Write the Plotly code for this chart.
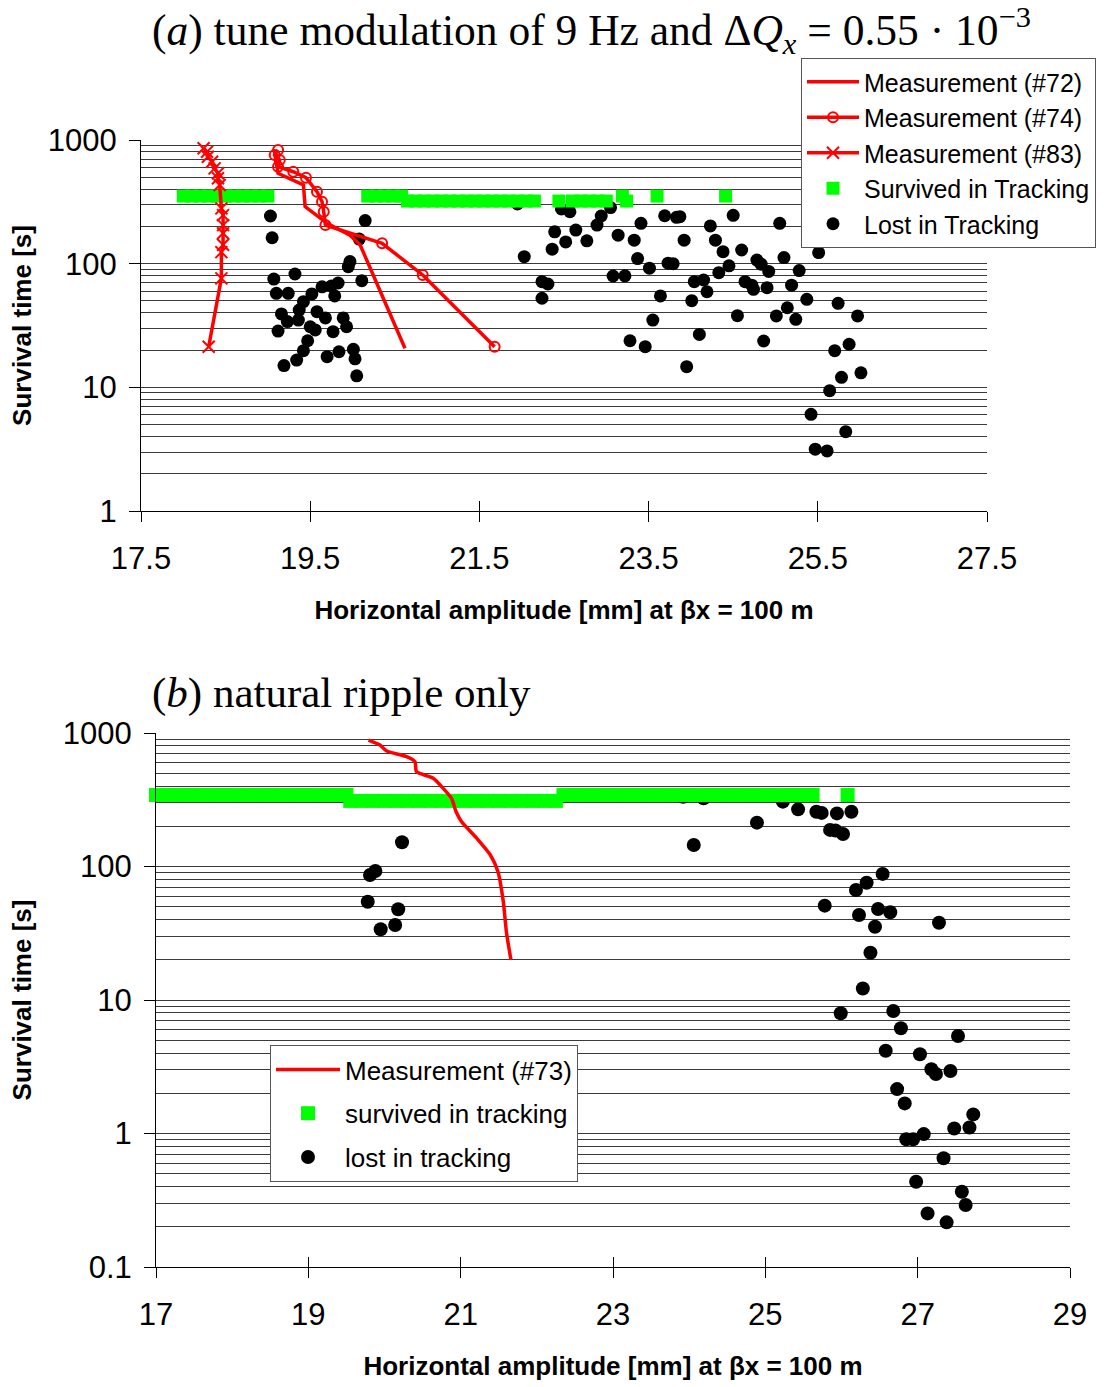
import plotly.graph_objects as go

# ---------------- panel (a): tune modulation 9 Hz ----------------
a_m72_x = [19.08, 19.12, 19.42, 19.44, 19.70, 19.97, 20.09, 20.21, 20.62]
a_m72_y = [785, 538, 433, 289, 212, 170, 142, 92, 20.7]

a_m74_x = [19.12, 19.08, 19.14, 19.12, 19.30, 19.45, 19.58, 19.64, 19.66, 19.68, 20.35, 20.83, 21.68]
a_m74_y = [830, 756, 689, 608, 554, 496, 382, 317, 263, 205, 146, 81, 21.3]

a_m83_x = [18.24, 18.28, 18.29, 18.34, 18.37, 18.41, 18.41, 18.43, 18.45, 18.47, 18.47, 18.47, 18.47, 18.45, 18.45, 18.30]
a_m83_y = [857, 804, 733, 668, 590, 538, 490, 433, 280, 247, 205, 176, 142, 124, 76, 21.3]

a_surv_x = [18.0, 18.1, 18.2, 18.3, 18.4, 18.5, 18.6, 18.7, 18.8, 18.9, 19.0,
            20.18, 20.28, 20.38, 20.48, 20.58, 23.19, 23.6, 24.41,
            20.65, 20.75, 20.85, 20.95, 21.05, 21.15, 21.25, 21.35, 21.45, 21.55, 21.65,
            21.75, 21.85, 21.95, 22.05, 22.15, 22.44, 22.6, 22.7, 22.8, 22.9, 23.0, 23.24]
a_surv_y = [352, 352, 352, 352, 352, 352, 352, 352, 352, 352, 352,
            352, 352, 352, 352, 352, 352, 352, 352,
            321, 321, 321, 321, 321, 321, 321, 321, 321, 321, 321,
            321, 321, 321, 321, 321, 321, 321, 321, 321, 321, 321, 321]

a_lost_x = [19.03, 19.05, 20.15, 20.08, 19.97, 19.95, 19.07, 19.32, 20.11, 19.10, 19.24, 19.52,
            19.64, 19.75, 19.83, 19.79, 19.42, 19.37, 19.58, 19.16, 19.23, 19.36, 19.68, 19.50,
            19.56, 19.89, 19.93, 19.12, 19.77, 19.47, 19.42, 19.34, 19.19, 19.70, 19.84, 20.01,
            20.03, 20.05,
            21.95, 22.03, 22.47, 22.57, 22.39, 22.64, 22.52, 22.77, 22.36, 22.94, 22.89, 23.05,
            23.41, 23.14, 23.33, 23.37, 23.51, 23.69, 23.83, 23.87, 23.92, 23.73, 23.79, 23.08,
            23.22, 22.24, 22.31, 22.24, 23.64, 23.55, 23.28, 23.46, 23.95, 24.23, 24.29, 24.38,
            24.50, 24.60, 24.45, 24.33, 24.04, 24.15, 24.19, 24.01, 24.10, 24.55, 24.78, 24.83,
            24.64, 24.72, 24.74, 24.92, 24.90, 24.86,
            25.05, 25.10, 25.51, 25.28, 25.19, 25.37, 25.14, 25.01, 25.24, 25.74, 25.97, 25.70,
            25.87, 25.78, 26.01, 25.64, 25.42, 25.83, 25.47, 25.61]
a_lost_y = [243, 162, 223, 158, 104, 94.5, 75, 82.5, 72.8, 57.6, 57.6, 56.9,
            65, 66, 69.8, 54.8, 49.3, 42.2, 40.9, 39.2, 34, 35, 36.4, 30.9,
            29.1, 36.4, 30.9, 28.5, 28.2, 23.8, 19.8, 16.6, 15, 17.7, 19.4, 20.3,
            17, 12.4,
            304, 114, 277, 263, 181, 187, 150, 153, 131, 243, 205, 284,
            212, 170, 155, 110, 92, 244, 237, 240, 155, 101, 100, 79.5,
            79.8, 71.5, 68.5, 52.5, 54.8, 35, 23.8, 21.3, 14.7, 202, 155, 125,
            246, 129, 96, 84.5, 71.5, 73.8, 59.3, 50.2, 26.8, 38, 107, 99,
            71.5, 67, 62, 86.5, 64, 23.7,
            212, 112, 123, 88, 67, 51.5, 44, 37.8, 35.5, 47.8, 37.8, 19.8,
            22.3, 12.05, 13.1, 9.4, 6.05, 4.38, 3.16, 3.06]

a_xticks = [17.5, 19.5, 21.5, 23.5, 25.5, 27.5]
a_yticks = [1, 10, 100, 1000]
a_ygrid = [2, 3, 4, 5, 6, 7, 8, 9, 20, 30, 40, 50, 60, 70, 80, 90,
           200, 300, 400, 500, 600, 700, 800, 900]

# ---------------- panel (b): natural ripple only ----------------
b_m73_x = [19.79, 19.94, 20.03, 20.29, 20.40, 20.42, 20.64, 20.77, 20.88, 20.94, 21.01,
           21.21, 21.39, 21.49, 21.56, 21.60, 21.66]
b_m73_y = [886, 813, 733, 665, 610, 513, 458, 385, 324, 257, 217, 163, 122, 91.4, 54.5, 32.5, 20]

b_surv_x = [17.0, 17.15, 17.3, 17.45, 17.6, 17.75, 17.9, 18.05, 18.2, 18.35, 18.5, 18.65,
            18.8, 18.95, 19.1, 19.25, 19.4, 19.5,
            19.55, 19.7, 19.85, 20.0, 20.15, 20.3, 20.45, 20.6, 20.75, 20.9, 21.05, 21.2,
            21.35, 21.5, 21.65, 21.8, 21.95, 22.1, 22.25,
            22.35, 22.5, 22.65, 22.8, 22.95, 23.1, 23.25, 23.4, 23.55, 23.7, 23.85, 24.0,
            24.15, 24.3, 24.45, 24.6, 24.75, 24.9, 25.05, 25.2, 25.35, 25.5, 25.62, 26.08]
b_surv_y = [343, 343, 343, 343, 343, 343, 343, 343, 343, 343, 343, 343,
            343, 343, 343, 343, 343, 343,
            310, 310, 310, 310, 310, 310, 310, 310, 310, 310, 310, 310,
            310, 310, 310, 310, 310, 310, 310,
            343, 343, 343, 343, 343, 343, 343, 343, 343, 343, 343, 343,
            343, 343, 343, 343, 343, 343, 343, 343, 343, 343, 343, 343]

b_lost_x = [20.23, 19.88, 19.81, 19.78, 20.18, 20.14, 19.95,
            23.92, 24.19, 25.23,
            24.06, 24.89, 25.43, 25.67, 25.74, 25.94, 26.13, 25.85, 25.92, 26.02,
            26.54, 26.33, 26.19, 25.78, 26.48, 26.64, 26.23, 27.28, 26.44, 26.38, 26.28, 25.99,
            26.68, 26.78, 27.53, 26.58, 27.03, 27.18, 27.24, 27.43, 26.73, 26.83, 27.73, 27.48,
            27.68, 27.08, 26.85, 26.94, 27.34, 26.98, 27.58, 27.63, 27.13, 27.38]
b_lost_y = [152, 92.5, 86.4, 54.5, 47.8, 36.5, 33.9,
            333, 324, 306,
            145, 213, 268, 257, 252, 250, 257, 188, 186, 175,
            88, 75.6, 66.7, 50.9, 48, 45.4, 43.3, 37.9, 35.4, 22.6, 12.2, 7.95,
            8.27, 6.14, 5.37, 4.17, 3.92, 3.03, 2.79, 2.94, 2.15, 1.68, 1.39, 1.09,
            1.11, 0.99, 0.905, 0.905, 0.652, 0.435, 0.366, 0.291, 0.252, 0.216]

b_xticks = [17, 19, 21, 23, 25, 27, 29]
b_yticks = [0.1, 1, 10, 100, 1000]
b_yticktext = ['0.1', '1', '10', '100', '1000']
b_ygrid = [0.2, 0.3, 0.4, 0.5, 0.6, 0.7, 0.8, 0.9, 2, 3, 4, 5, 6, 7, 8, 9,
           20, 30, 40, 50, 60, 70, 80, 90, 200, 300, 400, 500, 600, 700, 800, 900]

# ---------------- styling ----------------
W, H = 1109, 1387
RED = '#ff0000'
GREEN = '#00ff00'
SANS = 'Liberation Sans, Arial, sans-serif'
SERIF = 'Liberation Serif, Times New Roman, serif'
GRID = '#3a3a3a'

fig = go.Figure()

# panel (a)
fig.add_trace(go.Scatter(x=a_lost_x, y=a_lost_y, mode='markers', name='Lost in Tracking',
                         marker=dict(symbol='circle', size=13, color='black'),
                         xaxis='x', yaxis='y', legend='legend', legendrank=5))
fig.add_trace(go.Scatter(x=a_surv_x, y=a_surv_y, mode='markers', name='Survived in Tracking',
                         marker=dict(symbol='square', size=13, color=GREEN),
                         xaxis='x', yaxis='y', legend='legend', legendrank=4, cliponaxis=False))
fig.add_trace(go.Scatter(x=a_m72_x, y=a_m72_y, mode='lines', name='Measurement (#72)',
                         line=dict(color=RED, width=3.5),
                         xaxis='x', yaxis='y', legend='legend', legendrank=1))
fig.add_trace(go.Scatter(x=a_m74_x, y=a_m74_y, mode='lines+markers', name='Measurement (#74)',
                         line=dict(color=RED, width=3.5),
                         marker=dict(symbol='circle-open', size=10, color=RED, line=dict(width=2, color=RED)),
                         xaxis='x', yaxis='y', legend='legend', legendrank=2))
fig.add_trace(go.Scatter(x=a_m83_x, y=a_m83_y, mode='lines+markers', name='Measurement (#83)',
                         line=dict(color=RED, width=3.5),
                         marker=dict(symbol='x-thin-open', size=12, color=RED, line=dict(width=2, color=RED)),
                         xaxis='x', yaxis='y', legend='legend', legendrank=3))

# panel (b)
fig.add_trace(go.Scatter(x=b_lost_x, y=b_lost_y, mode='markers', name='lost in tracking',
                         marker=dict(symbol='circle', size=14, color='black'),
                         xaxis='x2', yaxis='y2', legend='legend2', legendrank=3, legendgroup='g3'))
fig.add_trace(go.Scatter(x=b_surv_x, y=b_surv_y, mode='markers', name='survived in tracking',
                         marker=dict(symbol='square', size=14, color=GREEN),
                         xaxis='x2', yaxis='y2', legend='legend2', legendrank=2, legendgroup='g2',
                         cliponaxis=False))
fig.add_trace(go.Scatter(x=b_m73_x, y=b_m73_y, mode='lines', name='Measurement (#73)',
                         line=dict(color=RED, width=3.5, shape='spline', smoothing=0.6),
                         xaxis='x2', yaxis='y2', legend='legend2', legendrank=1, legendgroup='g1'))

# helper traces so the overlay axes (inward tick halves) are drawn
fig.add_trace(go.Scatter(x=[17.5], y=[1], xaxis='x3', yaxis='y', mode='markers',
                         marker=dict(size=1, opacity=0), showlegend=False, hoverinfo='skip'))
fig.add_trace(go.Scatter(x=[17], y=[1], xaxis='x4', yaxis='y2', mode='markers',
                         marker=dict(size=1, opacity=0), showlegend=False, hoverinfo='skip'))

a_xdom = [141 / W, 987 / W]
a_ydom = [1 - 511 / H, 1 - 140 / H]
b_xdom = [156 / W, 1070 / W]
b_ydom = [1 - 1267 / H, 1 - 733 / H]

tickfont = dict(family=SANS, size=31, color='black')
titlefont = dict(family=SANS, size=26, color='black')
xtitle = '<b>Horizontal amplitude [mm] at \u03b2x = 100 m</b>'
ytitle = '<b>Survival time [s]</b>'

common_x = dict(showline=True, linecolor='black', linewidth=1, ticks='outside', ticklen=10,
                tickcolor='black', tickwidth=1, showgrid=False, zeroline=False,
                tickfont=tickfont, ticklabelstandoff=10, automargin=False)
common_y = dict(type='log', showline=True, linecolor='black', linewidth=1, ticks='outside',
                ticklen=11, tickcolor='black', tickwidth=1, showgrid=True, gridcolor=GRID,
                gridwidth=1, zeroline=False, tickfont=tickfont, ticklabelstandoff=6,
                automargin=False)

fig.update_layout(
    width=W, height=H,
    margin=dict(l=0, r=0, t=0, b=0, autoexpand=False),
    paper_bgcolor='white', plot_bgcolor='white',
    font=dict(family=SANS, color='black'),
    xaxis=dict(domain=a_xdom, anchor='y', range=[17.5, 27.5], tickmode='array',
               tickvals=a_xticks, ticktext=['17.5', '19.5', '21.5', '23.5', '25.5', '27.5'],
               title=dict(text=xtitle, font=titlefont, standoff=25), **common_x),
    yaxis=dict(domain=a_ydom, anchor='x', range=[0, 3], tickmode='array', tickvals=a_yticks,
               ticktext=['1', '10', '100', '1000'],
               minor=dict(tickmode='array', tickvals=a_ygrid, showgrid=True, gridcolor=GRID,
                          gridwidth=1, ticks=''),
               title=dict(text=ytitle, font=titlefont, standoff=8), **common_y),
    xaxis3=dict(overlaying='x', anchor='y', range=[17.5, 27.5], tickmode='array',
                tickvals=a_xticks, ticks='inside', ticklen=10, tickcolor='black',
                showticklabels=False, showline=False, showgrid=False, zeroline=False,
                automargin=False),
    xaxis2=dict(domain=b_xdom, anchor='y2', range=[17, 29], tickmode='array',
                tickvals=b_xticks, ticktext=['17', '19', '21', '23', '25', '27', '29'],
                title=dict(text=xtitle, font=titlefont, standoff=25), **common_x),
    yaxis2=dict(domain=b_ydom, anchor='x2', range=[-1, 3], tickmode='array', tickvals=b_yticks,
                ticktext=b_yticktext,
                minor=dict(tickmode='array', tickvals=b_ygrid, showgrid=True, gridcolor=GRID,
                           gridwidth=1, ticks=''),
                title=dict(text=ytitle, font=titlefont, standoff=23), **common_y),
    xaxis4=dict(overlaying='x2', anchor='y2', range=[17, 29], tickmode='array',
                tickvals=b_xticks, ticks='inside', ticklen=10, tickcolor='black',
                showticklabels=False, showline=False, showgrid=False, zeroline=False,
                automargin=False),
    legend=dict(x=801 / W, y=1 - 58 / H, xanchor='left', yanchor='top',
                bgcolor='white', bordercolor='#555555', borderwidth=1,
                font=dict(family=SANS, size=25, color='black'),
                traceorder='normal', itemwidth=52),
    legend2=dict(x=270 / W, y=1 - 1045 / H, xanchor='left', yanchor='top',
                 bgcolor='white', bordercolor='#555555', borderwidth=1,
                 font=dict(family=SANS, size=26, color='black'),
                 traceorder='grouped', tracegroupgap=7, itemwidth=64),
    annotations=[
        dict(text='(<i>a</i>) tune modulation of 9 Hz and \u0394<i>Q<sub>x</sub></i> = 0.55 \u00b7 10<sup>\u22123</sup>',
             x=150 / W, y=1 - 30 / H, xref='paper', yref='paper', xanchor='left', yanchor='middle',
             showarrow=False, font=dict(family=SERIF, size=43.5, color='black')),
        dict(text='(<i>b</i>) natural ripple only',
             x=150 / W, y=1 - 693 / H, xref='paper', yref='paper', xanchor='left', yanchor='middle',
             showarrow=False, font=dict(family=SERIF, size=43, color='black')),
    ],
)

fig.write_html('out.html')
